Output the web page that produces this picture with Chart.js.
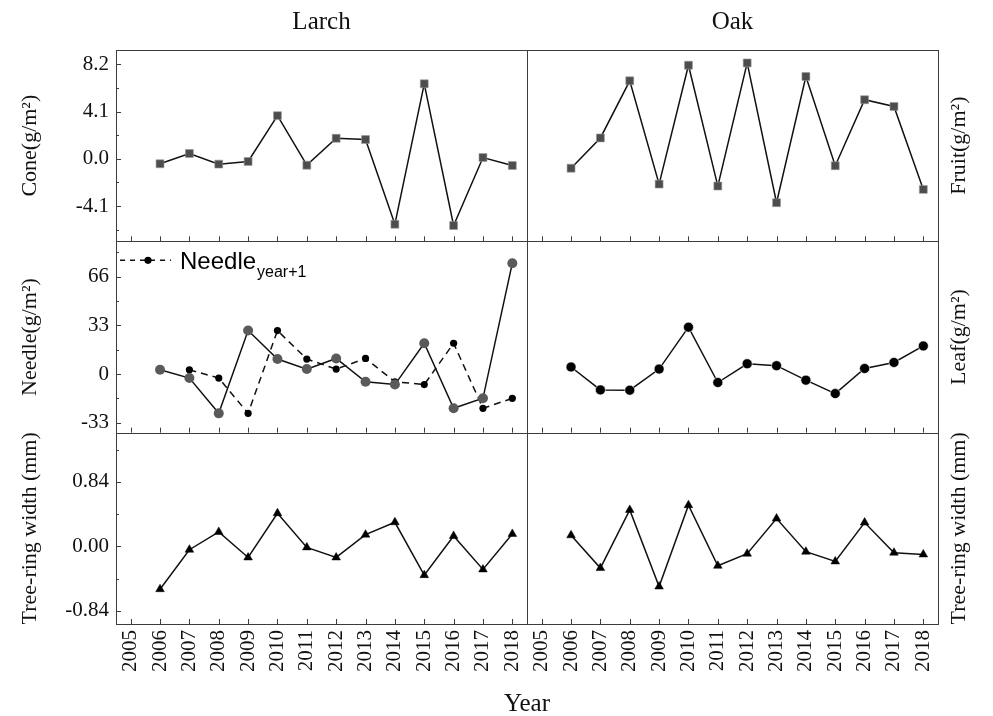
<!DOCTYPE html>
<html>
<head>
<meta charset="utf-8">
<title>Larch and Oak annual anomalies</title>
<script src="https://cdn.jsdelivr.net/npm/chart.js@4.4.1/dist/chart.umd.min.js"></script>
<style>
  html, body { margin: 0; padding: 0; background: #ffffff; }
  #wrap { position: relative; width: 993px; height: 716px; }
  canvas { display: block; }
</style>
</head>
<body>
<div id="wrap"><canvas id="chart" width="993" height="716"></canvas></div>
<script>
// ---- data -------------------------------------------------------------
const years = [2006, 2007, 2008, 2009, 2010, 2011, 2012, 2013, 2014, 2015, 2016, 2017, 2018];
const yearTicks = [2005, 2006, 2007, 2008, 2009, 2010, 2011, 2012, 2013, 2014, 2015, 2016, 2017, 2018];

// Larch cone and oak fruit production (g/m²)
const larchCone = [-0.43, 0.46, -0.46, -0.23, 3.74, -0.55, 1.78, 1.67, -5.67, 6.50, -5.78, 0.11, -0.58];
const oakFruit  = [-0.81, 1.81, 6.76, -2.19, 8.11, -2.36, 8.31, -3.80, 7.13, -0.60, 5.12, 4.54, -2.65];

// Larch needle litter (g/m²) and the following year's needle litter
const larchNeedle = [2.9, -2.7, -26.6, 29.5, 10.2, 3.4, 10.6, -5.2, -7.1, 20.9, -23.2, -16.4, 75.2];
const needleNextYears = [2007, 2008, 2009, 2010, 2011, 2012, 2013, 2014, 2015, 2016, 2017, 2018];
const larchNeedleNext = [2.9, -2.7, -26.6, 29.5, 10.2, 3.4, 10.6, -5.2, -7.1, 20.9, -23.2, -16.4];

// Oak leaf litter (g/m²)
const oakLeaf = [4.8, -10.7, -10.9, 3.4, 31.8, -5.7, 7.0, 5.7, -4.1, -13.2, 3.8, 7.9, 19.1];

// Tree-ring width (mm)
const larchRing = [-0.557, -0.043, 0.188, -0.144, 0.431, -0.013, -0.144, 0.153, 0.314, -0.374, 0.136, -0.300, 0.162];
const oakRing   = [0.144, -0.282, 0.475, -0.522, 0.536, -0.252, -0.095, 0.362, -0.069, -0.196, 0.310, -0.082, -0.105];

// y tick values and their printed labels
const coneTicks = [-4.1, 0, 4.1, 8.2];
const coneTickLabels = ['-4.1', '0.0', '4.1', '8.2'];
const needleTicks = [-33, 0, 33, 66];
const needleTickLabels = ['-33', '0', '33', '66'];
const ringTicks = [-0.84, 0, 0.84];
const ringTickLabels = ['-0.84', '0.00', '0.84'];

// ---- helpers ----------------------------------------------------------
const SERIF = '"Liberation Serif", "Times New Roman", serif';
const SANS = '"Liberation Sans", Arial, sans-serif';
const INK = '#111111';

const pts = (xs, ys) => xs.map((x, i) => ({ x: x, y: ys[i] }));

// majors plus the half-way minor ticks that fall inside [min, max]
function withMinor(majors, min, max) {
  const step = majors[1] - majors[0];
  const out = [];
  const first = majors[0] - step;
  const last = majors[majors.length - 1] + step;
  for (let v = first; v <= last + 1e-9; v += step / 2) {
    const r = Math.round(v * 1000) / 1000;
    if (r >= min && r <= max) out.push(r);
  }
  return out;
}

function leftAxis(title, min, max, majors, labels, weight) {
  return {
    type: 'linear', position: 'left', stack: 'rows', stackWeight: 1, weight: weight,
    min: min, max: max,
    grid: { display: false, drawTicks: false },
    border: { display: false },
    afterBuildTicks: s => { s.ticks = withMinor(majors, min, max).map(v => ({ value: v })); },
    ticks: {
      autoSkip: false, padding: 7, color: INK,
      font: { family: SERIF, size: 21 },
      callback: v => {
        const i = majors.findIndex(t => Math.abs(t - v) < 1e-6);
        return i < 0 ? '' : labels[i];
      }
    },
    title: { display: true, text: title, color: INK, font: { family: SERIF, size: 22 }, padding: { top: 17, bottom: 0 } },
    afterFit: s => { s.width = 116; }
  };
}

function bottomAxis(weight) {
  return {
    type: 'linear', position: 'bottom', stack: 'cols', stackWeight: 1, weight: weight,
    min: 2004.5, max: 2018.5,
    grid: { display: false, drawTicks: false },
    border: { display: false },
    afterBuildTicks: s => { s.ticks = yearTicks.map(v => ({ value: v })); },
    ticks: {
      autoSkip: false, minRotation: 90, maxRotation: 90, padding: 6, color: INK,
      font: { family: SERIF, size: 21 },
      callback: v => String(v)
    },
    afterFit: s => { s.height = 92; }
  };
}

function series(label, xAxis, yAxis, data, style) {
  return Object.assign({
    label: label, xAxisID: xAxis, yAxisID: yAxis, data: data,
    borderColor: INK, borderWidth: 1.5, tension: 0, fill: false,
    pointHoverRadius: 0
  }, style);
}

const squareStyle = { pointStyle: 'rect', pointRadius: 5.6, pointBackgroundColor: '#4d4d4d', pointBorderColor: '#9a9a9a', pointBorderWidth: 0.6 };
const triStyle = { pointStyle: 'triangle', pointRadius: 5, pointBackgroundColor: '#000', pointBorderColor: '#000', pointBorderWidth: 0.5 };

// ---- panel frames, inward tick marks and free text --------------------
const panelDecor = {
  id: 'panelDecor',
  afterDatasetsDraw(chart) {
    const ctx = chart.ctx;
    const xs = [chart.scales.xL, chart.scales.xR];
    const ys = [chart.scales.yTop, chart.scales.yMid, chart.scales.yBot];
    const px = v => Math.round(v) + 0.5;
    ctx.save();
    ctx.strokeStyle = '#3c3c3c';
    ctx.lineWidth = 1;
    xs.forEach(x => {
      ys.forEach(y => {
        ctx.strokeRect(px(x.left), px(y.top), Math.round(x.right) - Math.round(x.left), Math.round(y.bottom) - Math.round(y.top));
        // year ticks on the bottom edge, pointing up
        ctx.beginPath();
        x.ticks.forEach(t => {
          const xx = px(x.getPixelForValue(t.value));
          ctx.moveTo(xx, y.bottom);
          ctx.lineTo(xx, y.bottom - 5);
        });
        ctx.stroke();
      });
    });
    // value ticks on the left edge of the larch panels, pointing right
    const xl = chart.scales.xL;
    const majors = [coneTicks, needleTicks, ringTicks];
    ys.forEach((y, r) => {
      ctx.beginPath();
      y.ticks.forEach(t => {
        const isMajor = majors[r].some(m => Math.abs(m - t.value) < 1e-6);
        const yy = px(y.getPixelForValue(t.value));
        ctx.moveTo(xl.left, yy);
        ctx.lineTo(xl.left + (isMajor ? 5 : 3), yy);
      });
      ctx.stroke();
    });
    ctx.restore();
  },
  afterDraw(chart) {
    const ctx = chart.ctx;
    const xL = chart.scales.xL, xR = chart.scales.xR;
    const ys = [chart.scales.yTop, chart.scales.yMid, chart.scales.yBot];
    ctx.save();
    ctx.fillStyle = INK;
    ctx.textAlign = 'center';
    ctx.textBaseline = 'alphabetic';
    ctx.font = '25px ' + SERIF;
    ctx.fillText('Larch', (xL.left + xL.right) / 2, 29);
    ctx.fillText('Oak', (xR.left + xR.right) / 2, 29);
    ctx.fillText('Year', (xL.left + xR.right) / 2, 711);

    // titles of the oak panels, on the right side
    const rightTitles = ['Fruit(g/m²)', 'Leaf(g/m²)', 'Tree-ring width (mm)'];
    ctx.font = '22px ' + SERIF;
    ctx.textBaseline = 'middle';
    ys.forEach((y, i) => {
      ctx.save();
      ctx.translate(959, (y.top + y.bottom) / 2);
      ctx.rotate(-Math.PI / 2);
      ctx.fillText(rightTitles[i], 0, 0);
      ctx.restore();
    });

    // legend for the following-year needle series
    const yM = chart.scales.yMid;
    const ly = yM.top + 19;
    ctx.strokeStyle = INK;
    ctx.lineWidth = 1.5;
    ctx.setLineDash([5, 5]);
    ctx.beginPath();
    ctx.moveTo(xL.left + 4, ly);
    ctx.lineTo(xL.left + 55, ly);
    ctx.stroke();
    ctx.setLineDash([]);
    ctx.beginPath();
    ctx.arc(xL.left + 32, ly, 3.6, 0, Math.PI * 2);
    ctx.fillStyle = '#000';
    ctx.fill();
    ctx.textAlign = 'left';
    ctx.textBaseline = 'alphabetic';
    ctx.font = '24px ' + SANS;
    ctx.fillText('Needle', xL.left + 64, ly + 9);
    const w = ctx.measureText('Needle').width;
    ctx.font = '16px ' + SANS;
    ctx.fillText('year+1', xL.left + 64 + w + 1, ly + 17);
    ctx.restore();
  }
};

// ---- chart ------------------------------------------------------------
new Chart(document.getElementById('chart'), {
  type: 'line',
  data: {
    datasets: [
      series('Cone', 'xL', 'yTop', pts(years, larchCone), squareStyle),
      series('Fruit', 'xR', 'yTop', pts(years, oakFruit), squareStyle),
      series('Needle', 'xL', 'yMid', pts(years, larchNeedle), {
        pointStyle: 'circle', pointRadius: 5, pointBackgroundColor: '#5a5a5a', pointBorderColor: '#5a5a5a', pointBorderWidth: 0
      }),
      series('Needle year+1', 'xL', 'yMid', pts(needleNextYears, larchNeedleNext), {
        borderDash: [7, 5], pointStyle: 'circle', pointRadius: 3.6, pointBackgroundColor: '#000', pointBorderColor: '#000', pointBorderWidth: 0
      }),
      series('Leaf', 'xR', 'yMid', pts(years, oakLeaf), {
        pointStyle: 'circle', pointRadius: 5, pointBackgroundColor: '#000', pointBorderColor: '#fff', pointBorderWidth: 0.6
      }),
      series('Larch tree-ring width', 'xL', 'yBot', pts(years, larchRing), triStyle),
      series('Oak tree-ring width', 'xR', 'yBot', pts(years, oakRing), triStyle)
    ]
  },
  options: {
    responsive: false,
    animation: false,
    events: [],
    layout: { padding: { top: 50, right: 55, bottom: 0, left: 0 } },
    plugins: { legend: { display: false }, tooltip: { enabled: false } },
    scales: {
      xL: bottomAxis(1),
      xR: bottomAxis(2),
      yTop: leftAxis('Cone(g/m²)', -7.15, 9.43, coneTicks, coneTickLabels, 3),
      yMid: leftAxis('Needle(g/m²)', -39.7, 90, needleTicks, needleTickLabels, 2),
      yBot: leftAxis('Tree-ring width (mm)', -1.01, 1.48, ringTicks, ringTickLabels, 1)
    }
  },
  plugins: [panelDecor]
});
</script>
</body>
</html>
